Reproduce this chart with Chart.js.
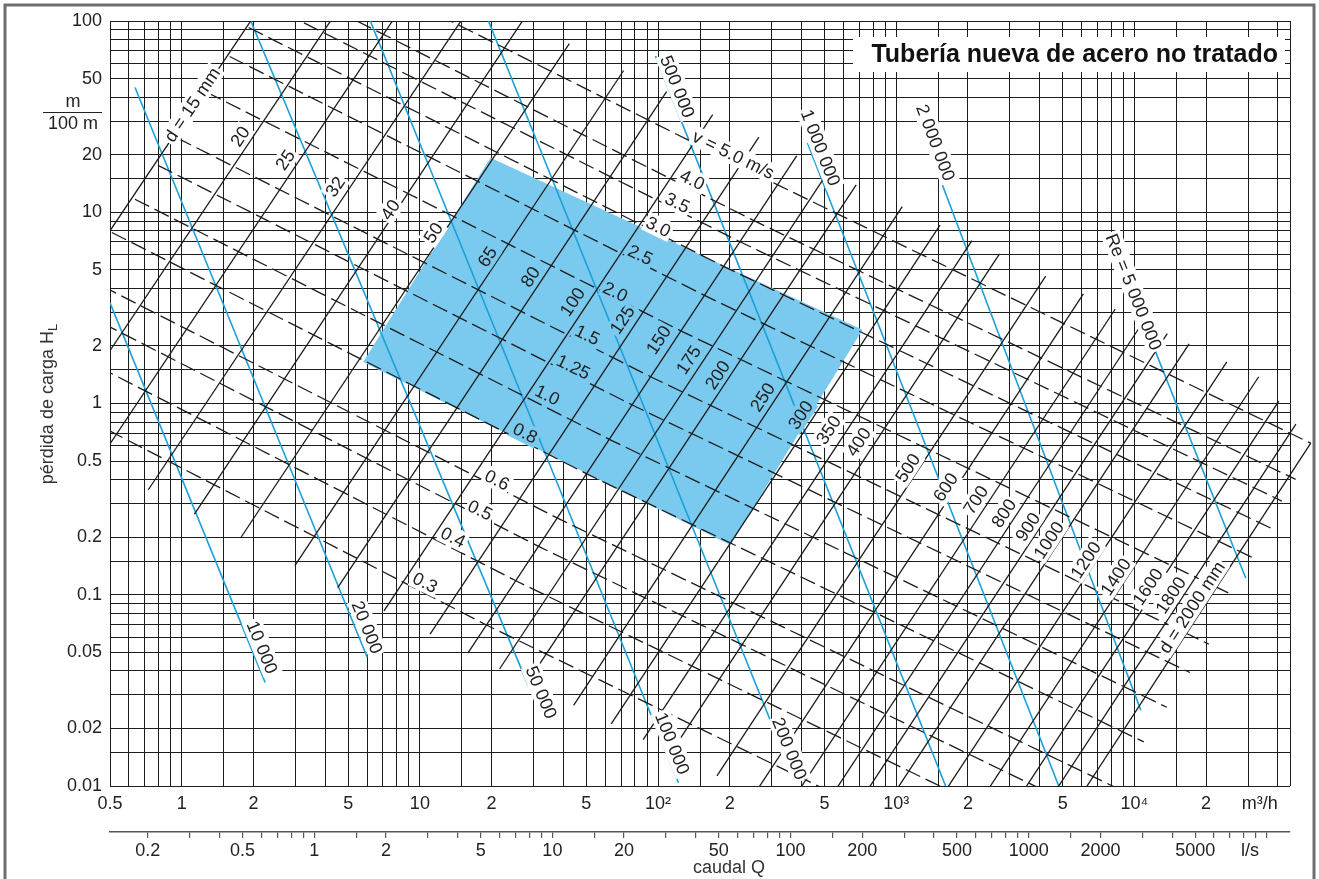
<!DOCTYPE html>
<html>
<head>
<meta charset="utf-8">
<title>Pérdida de carga - tubería nueva de acero no tratado</title>
<script src="https://cdn.jsdelivr.net/npm/chart.js@4.4.1/dist/chart.umd.min.js"></script>
<style>
  html, body { margin: 0; padding: 0; background: #fff; }
  #wrap { width: 1319px; height: 879px; }
</style>
</head>
<body>
<div id="wrap"><canvas id="chart_PerdidaCarga" width="1319" height="879"></canvas></div>
<script>
// ---- axes --------------------------------------------------------------
const gridSteps = [1, 1.5, 2, 3, 4, 5, 6, 7, 8, 9];
const qRange = [0.5, 45000];          // caudal, m3/h
const hRange = [0.01, 100];           // perdida de carga, m/100 m
const qTicks = [0.5, 1, 2, 5, 10, 20, 50, 100, 200, 500, 1000, 2000, 5000, 10000, 20000];
const qTickText = ['0.5', '1', '2', '5', '10', '2', '5', '10²', '2', '5', '10³', '2', '5', '10⁴', '2'];
const hTicks = [0.01, 0.02, 0.05, 0.1, 0.2, 0.5, 1, 2, 5, 10, 20, 50, 100];
const lsTicks = [0.2, 0.5, 1, 2, 5, 10, 20, 50, 100, 200, 500, 1000, 2000, 5000];
const qUnitAt = 33600;                // where "m3/h" sits on the m3/h scale
const lsUnitAt = 8500;                // where "l/s" sits on the l/s scale

// ---- pipe diameter lines (mm): [Q, H] at the low and high end ---------------
const diameters = [15, 20, 25, 32, 40, 50, 65, 80, 100, 125, 150, 175, 200, 250, 300, 350, 400,
  500, 600, 700, 800, 900, 1000, 1200, 1400, 1600, 1800, 2000];
const dLow = [[0.159, 0.954], [0.283, 0.655], [0.442, 0.489], [0.724, 0.354], [1.131, 0.264],
  [1.767, 0.198], [2.986, 0.142], [4.52, 0.109], [7.07, 0.0824], [11.04, 0.0622], [15.9, 0.0495],
  [21.6, 0.0409], [28.3, 0.0348], [44.2, 0.0264], [63.6, 0.0211], [86.6, 0.0175], [113.1, 0.0149],
  [176.7, 0.0113], [254, 0.00908], [346, 0.00755], [452, 0.00643], [572, 0.00559], [707, 0.00492],
  [1018, 0.00396], [1385, 0.00329], [1809, 0.00281], [2290, 0.00244], [2827, 0.00215]];
const dHigh = [[3.82, 349], [6.79, 243], [10.6, 183], [17.4, 134], [27.1, 101], [42.4, 76.1],
  [71.7, 55.1], [108.6, 42.7], [169.6, 32.4], [265, 24.7], [382, 19.7], [520, 16.4], [679, 13.9],
  [1060, 10.7], [1527, 8.56], [2078, 7.11], [2714, 6.06], [4241, 4.64], [6106, 3.74], [8311, 3.12],
  [10856, 2.66], [13739, 2.32], [16962, 2.05], [24425, 1.65], [33246, 1.38], [40400, 1.03],
  [47640, 0.78], [55000, 0.62]];
const dTagQ = [1.106, 1.759, 2.72, 4.41, 7.51, 11.38, 19.2, 29.1, 43.7, 70.8, 100.4, 134.2, 177.6,
  274.4, 396.5, 519.5, 695, 1117, 1612, 2155, 2825, 3565, 4367, 6248, 8350, 11380, 14215, 17415];
const dTagH = [36.5, 24.9, 18.8, 13.6, 10.3, 7.81, 5.85, 4.6, 3.4, 2.74, 2.15, 1.69, 1.41, 1.08,
  0.871, 0.727, 0.629, 0.46, 0.365, 0.313, 0.267, 0.226, 0.193, 0.152, 0.124, 0.11, 0.0994, 0.086];

// ---- velocity lines (m/s): [Q, H] at d = 15 mm, d = 150 mm and right end ----
const velocities = [0.3, 0.4, 0.5, 0.6, 0.8, 1.0, 1.25, 1.5, 2.0, 2.5, 3.0, 3.5, 4.0, 5.0];
const vStart = [[0.191, 1.33], [0.254, 2.23], [0.318, 3.35], [0.382, 4.65], [0.509, 7.84],
  [0.636, 11.7], [0.795, 17.6], [0.954, 24.5], [1.27, 42.5], [1.59, 65.2], [1.91, 92.5],
  [2.23, 124], [2.54, 161], [3.18, 246]];
const vMid = [[19.1, 0.0693], [25.4, 0.118], [31.8, 0.178], [38.2, 0.25], [50.9, 0.425],
  [63.6, 0.642], [79.5, 0.97], [95.4, 1.36], [127, 2.37], [159, 3.64], [191, 5.17], [223, 6.97],
  [254, 9.01], [318, 13.9]];
const vEnd = [[4105, 0.0027], [5473, 0.00463], [6841, 0.00704], [8209, 0.00991], [10945, 0.017],
  [13682, 0.0258], [17102, 0.0392], [20523, 0.0552], [24934, 0.102], [31168, 0.157],
  [37401, 0.223], [41582, 0.309], [47522, 0.401], [55000, 0.62]];
const vTagQ = [10.53, 13.8, 17.9, 21.1, 27.7, 34.27, 44.1, 50.5, 66.2, 84.3, 100.4, 120.6, 139.4, 207.3];
const vTagH = [0.116, 0.2, 0.277, 0.398, 0.701, 1.108, 1.553, 2.284, 3.836, 5.99, 8.4, 11.21, 14.8, 20.0];

// ---- Reynolds number lines: [Q, H] at both ends ----------------------------
const reynolds = [10000, 20000, 50000, 100000, 200000, 500000, 1000000, 2000000, 5000000];
const reStart = [[0.5, 3.36], [0.637, 44.9], [1.95, 100], [6.19, 100], [19.4, 100], [97.5, 65.5],
  [424, 23.0], [1172, 35.8], [11715, 2.15]];
const reEnd = [[2.24, 0.0348], [6.01, 0.0471], [28.5, 0.0336], [121.8, 0.0104], [377.6, 0.0104],
  [1612, 0.01], [4811, 0.01], [10640, 0.0249], [29360, 0.122]];
const reTagQ = [2.176, 6.01, 32.35, 114.9, 356.4, 120.6, 481, 1463, 9940];
const reTagH = [0.0531, 0.0676, 0.0309, 0.0167, 0.0157, 45.4, 21.77, 23.12, 3.836];

// ---- recommended zone (d 50..300 mm, v 0.8..3.0 m/s) ------------------------
const zone = [[5.78, 1.65], [19.8, 19.3], [722, 2.43], [201, 0.182]];

// ---- styling -----------------------------------------------------------------
const FONT = "'Liberation Sans', Arial, Helvetica, sans-serif";
const ink = '#1c1c1c';
const zoneBlue = 'rgb(122, 201, 238)';
const reBlue = 'rgb(26, 160, 218)';
const clear = 'rgba(0,0,0,0)';

Chart.defaults.font.family = FONT;
Chart.defaults.font.size = 18;
Chart.defaults.color = '#222';

function decadeTicks(min, max) {
  const out = [];
  for (let e = Math.floor(Math.log10(min)); e <= Math.ceil(Math.log10(max)); e++) {
    gridSteps.forEach(m => {
      const v = +(m * Math.pow(10, e)).toPrecision(6);
      if (v >= min * 0.9999 && v <= max * 1.0001) out.push(v);
    });
  }
  return out;
}
const same = (a, b) => Math.abs(a - b) <= Math.abs(b) * 1e-6;
const pt = p => ({ x: p[0], y: p[1] });
const groupText = n => String(n).replace(/\B(?=(\d{3})+(?!\d))/g, ' ');

function qLabel(v) {
  if (same(v, qUnitAt)) return 'm³/h';
  const i = qTicks.findIndex(t => same(v, t));
  return i >= 0 ? qTickText[i] : '';
}
function hLabel(v) {
  return hTicks.some(t => same(v, t)) ? String(+v.toPrecision(6)) : '';
}
function lsLabel(v) {
  if (same(v, lsUnitAt)) return 'l/s';
  return lsTicks.some(t => same(v, t)) ? String(+v.toPrecision(6)) : '';
}
function vText(v) {
  const s = v < 1 ? String(v) : (Number.isInteger(v * 10) ? v.toFixed(1) : v.toFixed(2));
  return v === 5 ? 'v = ' + s + ' m/s' : s;
}
function dText(d, i) {
  return (i === 0 || i === diameters.length - 1) ? 'd = ' + d + ' mm' : String(d);
}
function reText(r, i) {
  return i === reynolds.length - 1 ? 'Re = ' + groupText(r) : groupText(r);
}

const lineBase = { showLine: true, pointRadius: 0, pointHoverRadius: 0, fill: false, tension: 0,
  clip: { left: 0, top: 0, right: 25, bottom: 0 } };

const datasets = [{
  label: 'zona', data: zone.concat([zone[0]]).map(pt), showLine: true, pointRadius: 0,
  borderWidth: 0, borderColor: zoneBlue, backgroundColor: zoneBlue, fill: 'shape', order: 10
}];
diameters.forEach((d, i) => datasets.push(Object.assign({}, lineBase, {
  label: 'd ' + d, data: [pt(dLow[i]), pt(dHigh[i])], borderColor: ink, borderWidth: 1.3
})));
velocities.forEach((v, i) => datasets.push(Object.assign({}, lineBase, {
  label: 'v ' + v, data: [pt(vStart[i]), pt(vMid[i]), pt(vEnd[i])],
  borderColor: ink, borderWidth: 1.3, borderDash: [16, 6]
})));
reynolds.forEach((r, i) => datasets.push(Object.assign({}, lineBase, {
  label: 'Re ' + r, data: [pt(reStart[i]), pt(reEnd[i])], borderColor: reBlue, borderWidth: 1.6
})));

function inside(poly, p) {
  let hit = false;
  for (let i = 0, j = poly.length - 1; i < poly.length; j = i++) {
    const a = poly[i], b = poly[j];
    if ((a.y > p.y) !== (b.y > p.y) && p.x < (b.x - a.x) * (p.y - a.y) / (b.y - a.y) + a.x) hit = !hit;
  }
  return hit;
}

const nomogramText = {
  id: 'nomogramText',
  afterDraw(chart) {
    const { ctx, scales: { x, y } } = chart;
    const toPx = p => ({ x: x.getPixelForValue(p[0]), y: y.getPixelForValue(p[1]) });
    const poly = zone.map(toPx);

    function tag(text, at, from, to) {
      const p = toPx(at), a = toPx(from), b = toPx(to);
      ctx.save();
      ctx.translate(p.x, p.y);
      ctx.rotate(Math.atan2(b.y - a.y, b.x - a.x));
      ctx.font = '18px ' + FONT;
      const w = ctx.measureText(text).width;
      ctx.fillStyle = inside(poly, p) ? zoneBlue : '#fff';
      ctx.fillRect(-w / 2 - 2, -10, w + 4, 20);
      ctx.fillStyle = '#222';
      ctx.textAlign = 'center';
      ctx.textBaseline = 'middle';
      ctx.fillText(text, 0, 1);
      ctx.restore();
    }
    diameters.forEach((d, i) => tag(dText(d, i), [dTagQ[i], dTagH[i]], dLow[i], dHigh[i]));
    velocities.forEach((v, i) => tag(vText(v), [vTagQ[i], vTagH[i]], vStart[i], vEnd[i]));
    reynolds.forEach((r, i) => tag(reText(r, i), [reTagQ[i], reTagH[i]], reStart[i], reEnd[i]));

    ctx.save();
    // title box
    ctx.fillStyle = '#fff';
    ctx.fillRect(853, 37, 432, 35);
    ctx.fillStyle = '#111';
    ctx.font = 'bold 25px ' + FONT;
    ctx.textAlign = 'right';
    ctx.textBaseline = 'middle';
    ctx.fillText('Tubería nueva de acero no tratado', 1278, 55);

    // unit of the vertical axis
    ctx.font = '18px ' + FONT;
    ctx.fillStyle = '#222';
    ctx.textAlign = 'center';
    ctx.fillText('m', 73, 102);
    ctx.fillText('100 m', 73, 124);
    ctx.strokeStyle = '#222';
    ctx.lineWidth = 1;
    ctx.beginPath();
    ctx.moveTo(43, 112.5);
    ctx.lineTo(102, 112.5);
    ctx.stroke();

    // vertical axis title with subscript
    ctx.translate(48, 404);
    ctx.rotate(-Math.PI / 2);
    const main = 'pérdida de carga H';
    ctx.font = '18px ' + FONT;
    const w1 = ctx.measureText(main).width;
    ctx.font = '13px ' + FONT;
    const w2 = ctx.measureText('L').width;
    ctx.textAlign = 'left';
    ctx.fillStyle = '#333';
    ctx.font = '18px ' + FONT;
    ctx.fillText(main, -(w1 + w2) / 2, 0);
    ctx.font = '13px ' + FONT;
    ctx.fillText('L', -(w1 + w2) / 2 + w1, 5);
    ctx.restore();

    // horizontal axis title
    ctx.save();
    ctx.font = '18px ' + FONT;
    ctx.fillStyle = '#333';
    ctx.textAlign = 'center';
    ctx.textBaseline = 'middle';
    ctx.fillText('caudal Q', 729, 868);

    // page frame
    ctx.strokeStyle = '#6e6e6e';
    ctx.lineWidth = 3;
    ctx.strokeRect(5, 5, 1309, 900);
    ctx.restore();
  }
};

new Chart(document.getElementById('chart_PerdidaCarga'), {
  type: 'scatter',
  data: { datasets: datasets },
  options: {
    responsive: false,
    animation: false,
    events: [],
    layout: { padding: { left: 0, right: 29, top: 21, bottom: 0 } },
    plugins: { legend: { display: false }, tooltip: { enabled: false } },
    scales: {
      x: {
        type: 'logarithmic', position: 'bottom', weight: 0, z: 1,
        min: qRange[0], max: qRange[1],
        border: { display: false },
        grid: { color: c => (c.tick && same(c.tick.value, qUnitAt)) ? clear : ink, lineWidth: 1, drawTicks: false },
        ticks: { autoSkip: false, maxRotation: 0, minRotation: 0, padding: 7, callback: v => qLabel(v) },
        afterBuildTicks: s => {
          s.ticks = decadeTicks(qRange[0], qRange[1]).concat([qRange[1], qUnitAt])
            .sort((a, b) => a - b).map(v => ({ value: v }));
        },
        afterFit: s => { s.height = 46; }
      },
      ls: {
        type: 'logarithmic', axis: 'x', position: 'bottom', weight: 1,
        min: qRange[0] / 3.6, max: qRange[1] / 3.6,
        border: { display: true, color: '#555', width: 1.5 },
        grid: {
          drawOnChartArea: false, drawTicks: true, tickLength: 6, lineWidth: 1.2,
          color: c => (c.tick && same(c.tick.value, lsUnitAt)) ? clear : '#555'
        },
        ticks: { autoSkip: false, maxRotation: 0, minRotation: 0, padding: 2, callback: v => lsLabel(v) },
        afterBuildTicks: s => {
          s.ticks = decadeTicks(0.2, 10000).concat([lsUnitAt])
            .sort((a, b) => a - b).map(v => ({ value: v }));
        },
        afterFit: s => { s.height = 47; }
      },
      y: {
        type: 'logarithmic', position: 'left', z: 1,
        min: hRange[0], max: hRange[1],
        border: { display: false },
        grid: { color: ink, lineWidth: 1, drawTicks: false },
        ticks: { autoSkip: false, padding: 8, callback: v => hLabel(v) },
        afterBuildTicks: s => { s.ticks = decadeTicks(hRange[0], hRange[1]).map(v => ({ value: v })); },
        afterFit: s => { s.width = 110; }
      }
    }
  },
  plugins: [nomogramText]
});
</script>
</body>
</html>
